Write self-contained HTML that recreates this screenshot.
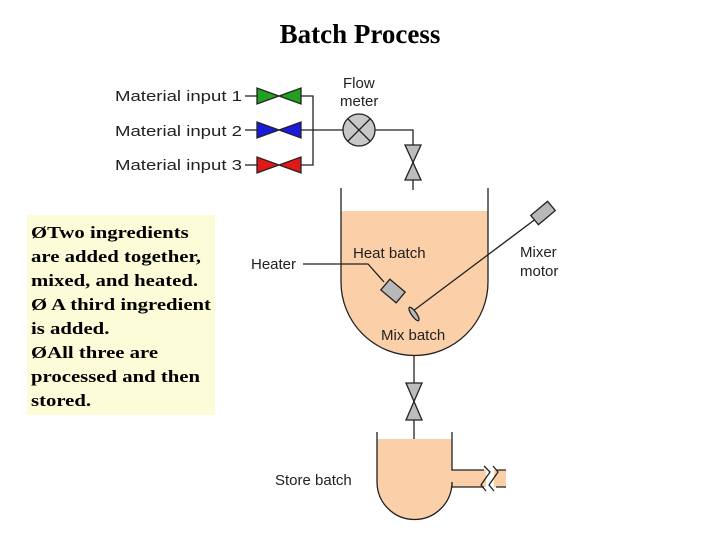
<!DOCTYPE html>
<html><head><style>
body{margin:0;width:720px;height:540px;background:#fff;position:relative;overflow:hidden}
.t{position:absolute;left:0;width:720px;top:19px;text-align:center;font:bold 27px "Liberation Serif",serif}
.box{position:absolute;left:27px;top:215px;width:188px;height:200px;background:#fdfcd8;box-sizing:border-box}
.in{position:absolute;left:4px;top:6px;font:bold 17px/24px "Liberation Serif",serif;white-space:nowrap;transform:scaleX(1.22);transform-origin:0 0}
svg{position:absolute;left:0;top:0}
svg text{font-family:"Liberation Sans",sans-serif;font-size:15px;fill:#222}
</style></head><body>
<div class="t">Batch Process</div>
<div class="box"><div class="in">ØTwo ingredients<br>are added together,<br>mixed, and heated.<br>Ø A third ingredient<br>is added.<br>ØAll three are<br>processed and then<br>stored.</div></div>
<svg width="720" height="540" stroke="#222" stroke-width="1.3">
<text x="115" y="101" stroke="none" font-size="17" textLength="127" lengthAdjust="spacingAndGlyphs">Material input 1</text>
<text x="115" y="136" stroke="none" font-size="17" textLength="127" lengthAdjust="spacingAndGlyphs">Material input 2</text>
<text x="115" y="170" stroke="none" font-size="17" textLength="127" lengthAdjust="spacingAndGlyphs">Material input 3</text>
<text x="343" y="88" stroke="none" font-size="14">Flow</text>
<text x="340" y="106" stroke="none" font-size="14">meter</text>
<g fill="none">
<line x1="245" y1="96" x2="257" y2="96"/><line x1="245" y1="130" x2="257" y2="130"/><line x1="245" y1="165" x2="257" y2="165"/>
<polyline points="299,96 313,96 313,165 299,165"/>
<line x1="299" y1="130" x2="343" y2="130"/>
<polyline points="375,130 413,130 413,190"/>
</g>
<polygon points="257,88 257,104 301,88 301,104" fill="#22a022"/>
<polygon points="257,122 257,138 301,122 301,138" fill="#1a1add"/>
<polygon points="257,157 257,173 301,157 301,173" fill="#e01818"/>
<circle cx="359" cy="130" r="16" fill="#c8c8c8"/>
<line x1="348" y1="119" x2="370" y2="141"/><line x1="370" y1="119" x2="348" y2="141"/>
<polygon points="405,145 421,145 405,180 421,180" fill="#bdbdbd"/>
<path d="M341,211 H488 V282 A73.5,73.5 0 0 1 341,282 Z" fill="#fbcfa8" stroke="none"/>
<path d="M341,188 V282 A73.5,73.5 0 0 0 488,282 V188" fill="none"/>
<text x="353" y="258" stroke="none">Heat batch</text>
<text x="381" y="340" stroke="none">Mix batch</text>
<text x="251" y="269" stroke="none">Heater</text>
<text x="520" y="257" stroke="none">Mixer</text>
<text x="520" y="276" stroke="none">motor</text>
<polyline points="303,264 368,264 384,282" fill="none"/>
<rect x="-10" y="-7" width="20" height="14" fill="#b8b8b8" transform="translate(393,291) rotate(40)"/>
<line x1="413" y1="311" x2="537" y2="218"/>
<rect x="-11" y="-6" width="22" height="12" fill="#b8b8b8" transform="translate(543,213) rotate(-40)"/>
<ellipse cx="414" cy="314" rx="2.5" ry="8" fill="#b8b8b8" transform="rotate(-35 414 314)"/>
<line x1="414" y1="356" x2="414" y2="455"/>
<polygon points="406,383 422,383 406,420 422,420" fill="#bdbdbd"/>
<path d="M377,439 H452 V482 A37.5,37.5 0 0 1 377,482 Z" fill="#fbcfa8" stroke="none"/>
<rect x="452" y="470" width="54" height="17" fill="#fbcfa8" stroke="none"/>
<rect x="486" y="466" width="8" height="26" fill="#fff" stroke="none"/>
<path d="M377,432 V482 A37.5,37.5 0 0 0 452,482 V487 M452,432 V470 H484 M452,487 H484 M496,470 H506 M496,487 H506" fill="none"/>
<path d="M484,466 L490,472 L481,485 L486,491 M493,466 L498,472 L489,485 L494,491" fill="none"/>
<text x="275" y="485" stroke="none">Store batch</text>
</svg>
</body></html>
